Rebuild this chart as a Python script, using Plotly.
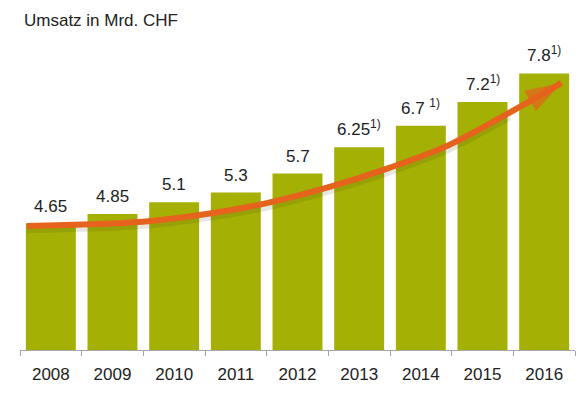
import plotly.graph_objects as go

years = ["2008", "2009", "2010", "2011", "2012", "2013", "2014", "2015", "2016"]
values = [4.65, 4.85, 5.1, 5.3, 5.7, 6.25, 6.7, 7.2, 7.8]
labels = ["4.65", "4.85", "5.1", "5.3", "5.7",
          "6.25<sup>1)</sup>", "6.7 <sup>1)</sup>", "7.2<sup>1)</sup>", "7.8<sup>1)</sup>"]

# trend arrow, x in category-index units
trend_x = [-0.39, 1.49, 2.41, 3.50, 4.52, 5.49, 6.46, 7.43, 8.28]
trend_y = [4.60, 4.69, 4.83, 5.08, 5.42, 5.82, 6.30, 6.97, 7.60]

title = "Umsatz in Mrd. CHF"
FONT = "Liberation Sans, Arial, sans-serif"
BAR = "#A4B004"
ORANGE = "#E5631C"

pos = list(range(len(years)))
bounds = [p - 0.5 for p in pos] + [pos[-1] + 0.5]

fig = go.Figure()
fig.add_trace(go.Bar(
    x=pos, y=values, marker=dict(color=BAR, line=dict(width=0)),
    hoverinfo="skip", showlegend=False,
))
# soft shadow of arrow
fig.add_trace(go.Scatter(
    x=trend_x[:-1], y=[v - 0.06 for v in trend_y[:-1]],
    mode="lines", line=dict(color="rgba(60,60,40,0.13)", width=9, shape="spline"),
    hoverinfo="skip", showlegend=False,
))
n = len(trend_x)
fig.add_trace(go.Scatter(
    x=trend_x, y=trend_y,
    mode="lines+markers",
    line=dict(color=ORANGE, width=6, shape="spline"),
    marker=dict(symbol="arrow", angleref="previous", color=ORANGE,
                size=[0] * (n - 1) + [38], line=dict(width=0)),
    hoverinfo="skip", showlegend=False,
))

annotations = []
for p, v, lab in zip(pos, values, labels):
    annotations.append(dict(
        x=p, y=v, xref="x", yref="y", text=lab, showarrow=False,
        yanchor="bottom", yshift=6, font=dict(size=17, color="#222222", family=FONT),
    ))
annotations.append(dict(
    x=0, y=1, xref="paper", yref="paper", text=title, showarrow=False,
    xanchor="left", yanchor="bottom", xshift=2, yshift=-2,
    font=dict(size=17, color="#222222", family=FONT),
))

fig.update_layout(
    width=582, height=395,
    margin=dict(l=20, r=7, t=30, b=45),
    paper_bgcolor="white", plot_bgcolor="white",
    bargap=0.19,
    font=dict(family=FONT, color="#222222"),
    xaxis=dict(range=[-0.5, 8.5], showgrid=False, zeroline=False, showline=True,
               linecolor="#A6A6A6", linewidth=1,
               tickmode="array", tickvals=pos, ticktext=years, ticks="",
               tickfont=dict(size=17, color="#222222"), ticklabelstandoff=9,
               minor=dict(tickmode="array", tickvals=bounds, ticks="outside",
                          ticklen=5, tickcolor="#A6A6A6", showgrid=False),
               fixedrange=True),
    yaxis=dict(range=[2, 8.71], visible=False, showgrid=False, fixedrange=True),
    annotations=annotations,
)

fig.write_html("out.html", config={"displayModeBar": False},
               post_script="document.body.style.margin='0px';")
